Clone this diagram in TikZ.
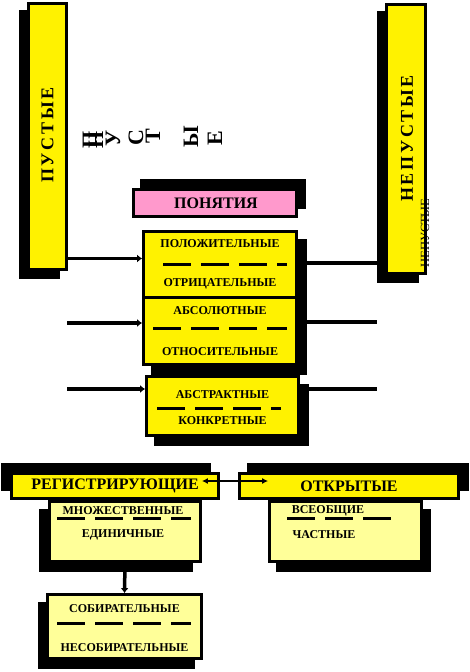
\documentclass[tikz,border=0pt]{standalone}
\usepackage{fontspec}
\setmainfont{Liberation Serif}
\usepackage{tikz}
\usetikzlibrary{arrows.meta, positioning, backgrounds}
\definecolor{paleyellow}{HTML}{FFFF99}
\definecolor{pinkbox}{HTML}{FF99CC}

\begin{document}
\begin{tikzpicture}[%
  x=1pt, y=-1pt,%
  ybox/.style={rectangle, draw=black, line width=2.8pt, fill=yellow, inner sep=0pt},%
  lbox/.style={ybox, fill=paleyellow},%
  pbox/.style={ybox, fill=pinkbox},%
  lbl/.style={font=\fontsize{12}{13}\selectfont\bfseries, inner sep=0pt},%
  hdr/.style={font=\fontsize{16}{18}\selectfont\bfseries, inner sep=0pt},%
  vlbl/.style={rotate=90, font=\fontsize{18}{20}\selectfont\bfseries\addfontfeature{LetterSpace=15}, inner sep=0pt},%
  stray/.style={rotate=90, font=\fontsize{22}{24}\selectfont\bfseries, inner sep=0pt},%
  sep/.style={line width=3pt, dash pattern=on 28pt off 10pt},%
  myarrow/.style={-{Latex[length=5pt,width=8pt]}, line width=3.5pt},%
  dblarrow/.style={{Latex[length=6pt,width=6pt]}-{Latex[length=6pt,width=6pt]}, line width=2.2pt},%
  link/.style={line width=3.5pt}%
]
  \useasboundingbox (0,0) rectangle (470,672);
  % vertical boxes
  \node[ybox, minimum width=38pt, minimum height=266pt] (pust) at (47.5,136.5) {};
  \node[ybox, minimum width=39pt, minimum height=269pt] (nepust) at (406,139) {};
  \node[vlbl] (pustlbl) at (47.5,135) {ПУСТЫЕ};
  \node[vlbl] (nepustlbl) at (407,138.5) {НЕПУСТЫЕ};
  \node[rotate=90, font=\fontsize{12.5}{13}\selectfont, inner sep=0pt] (nepustsm) at (425,233) {НЕПУСТЫЕ};
  \foreach \ch/\px/\py [count=\i] in {П/90/140, Н/96/140, У/113/138, С/136/138, Т/153/136, Ы/191/137, Е/215/138}
    \node[stray] (s\i) at (\px,\py) {\ch};
  % centre column
  \node[pbox, minimum width=163pt, minimum height=27pt] (pon) at (215,203) {};
  \node[hdr] (ponlbl) at (216,203) {ПОНЯТИЯ};
  \node[ybox, minimum width=153pt, minimum height=66pt] (b1) at (220,264.5) {};
  \node[ybox, minimum width=153pt, minimum height=67pt] (b2) at (220,331) {};
  \node[ybox, minimum width=152pt, minimum height=59pt] (b3) at (222.5,406) {};
  \node[lbl] (t1a) at ([yshift=-13pt]b1.north) {ПОЛОЖИТЕЛЬНЫЕ};
  \node[lbl] (t1b) at ([yshift=15pt]b1.south) {ОТРИЦАТЕЛЬНЫЕ};
  \node[lbl] (t2a) at ([yshift=-14pt]b2.north) {АБСОЛЮТНЫЕ};
  \node[lbl] (t2b) at ([yshift=14pt]b2.south) {ОТНОСИТЕЛЬНЫЕ};
  \node[lbl] (t3a) at ([yshift=-19pt]b3.north) {АБСТРАКТНЫЕ};
  \node[lbl] (t3b) at ([yshift=16pt]b3.south) {КОНКРЕТНЫЕ};
  \draw[sep] ([xshift=21pt]b1.west) -- ([xshift=-11pt]b1.east);
  \draw[sep] ([xshift=11pt,yshift=3pt]b2.west) -- ([xshift=-11pt,yshift=3pt]b2.east);
  \draw[sep] ([xshift=12pt,yshift=-2pt]b3.west) -- ([xshift=-19pt,yshift=-2pt]b3.east);
  % bottom part
  \node[lbox, minimum width=151pt, minimum height=60pt] (mn) at (125,531.5) {};
  \node[lbox, minimum width=152pt, minimum height=60pt] (vs) at (345.5,531.5) {};
  \node[ybox, minimum width=207pt, minimum height=25pt] (reg) at (115,486) {};
  \node[ybox, minimum width=219pt, minimum height=25pt] (otk) at (349,486) {};
  \node[lbox, minimum width=154pt, minimum height=64pt] (sob) at (124.5,626.5) {};
  \node[hdr] (reglbl) at (reg) {РЕГИСТРИРУЮЩИЕ};
  \node[hdr] (otklbl) at (otk) {ОТКРЫТЫЕ};
  \node[lbl] (tma) at ([xshift=-2pt,yshift=-10pt]mn.north) {МНОЖЕСТВЕННЫЕ};
  \node[lbl] (tmb) at ([xshift=-2pt,yshift=28pt]mn.south) {ЕДИНИЧНЫЕ};
  \node[lbl] (tva) at ([xshift=-17.5pt,yshift=-10.5pt]vs.north) {ВСЕОБЩИЕ};
  \node[lbl] (tvb) at ([xshift=-21.5pt,yshift=28pt]vs.south) {ЧАСТНЫЕ};
  \node[lbl] (tsa) at ([yshift=-15pt]sob.north) {СОБИРАТЕЛЬНЫЕ};
  \node[lbl] (tsb) at ([yshift=12pt]sob.south) {НЕСОБИРАТЕЛЬНЫЕ};
  \draw[sep] ([xshift=9pt,yshift=13pt]mn.west) -- ([xshift=-11pt,yshift=13pt]mn.east);
  \draw[sep] ([xshift=19pt,yshift=13pt]vs.west) -- ([xshift=-30pt,yshift=13pt]vs.east);
  \draw[sep] ([xshift=11pt,yshift=3.5pt]sob.west) -- ([xshift=-12pt,yshift=3.5pt]sob.east);
  % connectors
  \coordinate (a1) at ([yshift=6pt]b1.west);
  \coordinate (l2) at (67,323);
  \coordinate (l3) at (67,389);
  \coordinate (c1) at ([yshift=1.5pt]b1.east);
  \coordinate (r2) at (377,322);
  \coordinate (r3) at (377,389);
  \draw[myarrow] (pust.east |- a1) -- (a1);
  \draw[myarrow] (l2) -- (l2 -| b2.west);
  \draw[myarrow] (l3) -- (l3 -| b3.west);
  \draw[link] (c1) -- (c1 -| nepust.west);
  \draw[link] (r2 -| b2.east) -- (r2);
  \draw[link] (r3 -| b3.east) -- (r3);
  \draw[dblarrow] ([xshift=-18pt,yshift=5pt]reg.east) -- ([xshift=30pt,yshift=5pt]otk.west);
  \draw[myarrow] (mn.south) -- (sob.north);
  % shadows
  \begin{scope}[on background layer]
    \fill[white] (0,0) rectangle (470,672);
    \foreach \n/\dx/\dy in {pust/-8/8, nepust/-8/8, pon/8/-9, b1/9/9, b2/9/9, b3/9/9, reg/-9/-9, otk/9/-9, mn/-9/9, vs/8/9, sob/-8/9}
      \fill[black] ([shift={(\dx,\dy)}]\n.north west) rectangle ([shift={(\dx,\dy)}]\n.south east);
  \end{scope}
\end{tikzpicture}
\end{document}
